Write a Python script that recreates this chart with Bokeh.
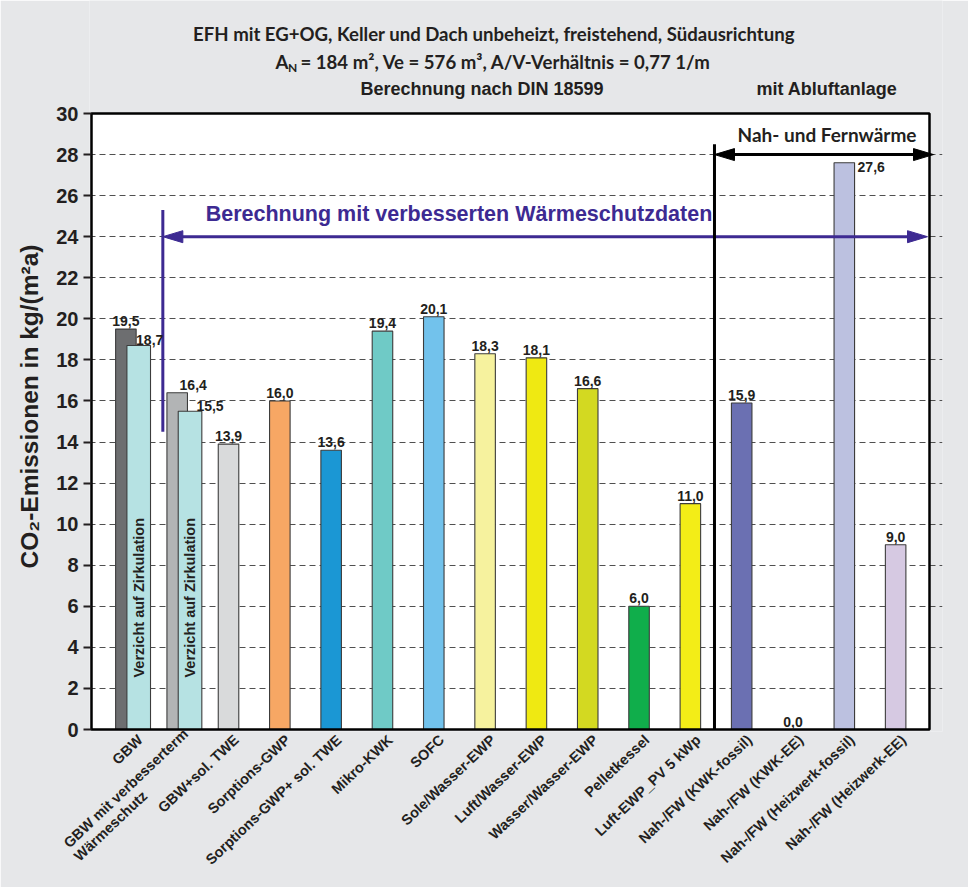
import math

from bokeh.embed import file_html
from bokeh.models import FixedTicker, Label, LinearAxis, Range1d, Title
from bokeh.plotting import figure
from bokeh.resources import INLINE

# ---- data -------------------------------------------------------------
categories = [
    "GBW",
    "GBW mit verbesserterm\nWärmeschutz",
    "GBW+sol. TWE",
    "Sorptions-GWP",
    "Sorptions-GWP+ sol. TWE",
    "Mikro-KWK",
    "SOFC",
    "Sole/Wasser-EWP",
    "Luft/Wasser-EWP",
    "Wasser/Wasser-EWP",
    "Pelletkessel",
    "Luft-EWP_PV 5 kWp",
    "Nah-/FW (KWK-fossil)",
    "Nah-/FW (KWK-EE)",
    "Nah-/FW (Heizwerk-fossil)",
    "Nah-/FW (Heizwerk-EE)",
]
emissions = [19.5, 16.4, 13.9, 16.0, 13.6, 19.4, 20.1, 18.3, 18.1, 16.6,
             6.0, 11.0, 15.9, 0.0, 27.6, 9.0]

# variants "Verzicht auf Zirkulation" for the first two systems
zirk_index = [0, 1]
zirk_emissions = [18.7, 15.5]

y_ticks = [0, 2, 4, 6, 8, 10, 12, 14, 16, 18, 20, 22, 24, 26, 28, 30]

# ---- styles -----------------------------------------------------------
bar_colors = ["#6d6e70", "#b2b4b5", "#d9dadb", "#f7a764", "#1b97d4",
              "#6fcac6", "#72c2ec", "#f6f29e", "#efe912", "#d3d921",
              "#10ae4b", "#f3ed17", "#6b70b2", "#6b70b2", "#bcc1e0",
              "#d6c9e2"]
zirk_color = "#b6e2e3"
TEXT = "#231f20"
PURPLE = "#3d2a92"
BG = "#e6e7e9"

W, H = 968, 887
# white chart box in canvas pixels, and the (slightly larger) drawing frame
BOX_L, BOX_R, BOX_T, BOX_B = 91, 929, 113, 729
FRAME_L, FRAME_R, FRAME_T, FRAME_B = 89, 942, 0, 731
BX0, BX1 = -0.67, 15.66
SX = (BX1 - BX0) / (BOX_R - BOX_L)
SY = 30.0 / (BOX_B - BOX_T)


def xd(px):
    return BX0 + (px - BOX_L) * SX


def yd(py):
    return (BOX_B - py) * SY


def dx(px):
    return px * SX


def dy(py):
    return py * SY


def fmt(v):
    return f"{v:.1f}".replace(".", ",")


p = figure(width=W, height=H,
           x_range=Range1d(xd(FRAME_L), xd(FRAME_R)),
           y_range=Range1d(yd(FRAME_B), yd(FRAME_T)),
           output_backend="svg", toolbar_location=None,
           min_border_left=FRAME_L, min_border_right=W - FRAME_R,
           min_border_top=FRAME_T, min_border_bottom=H - FRAME_B)
p.title.visible = False
p.border_fill_color = BG
p.background_fill_color = BG
p.outline_line_color = None

# white chart box
p.quad(left=[BX0], right=[BX1], bottom=[0], top=[30], fill_color="white",
       line_color=None, level="underlay")

p.xgrid.visible = False
p.ygrid.ticker = FixedTicker(ticks=y_ticks[1:-1])
p.ygrid.grid_line_color = "#505050"
p.ygrid.grid_line_dash = "6 4"
p.ygrid.grid_line_width = 1

ax = p.yaxis[0]
ax.ticker = FixedTicker(ticks=y_ticks)
ax.axis_line_color = None
ax.major_tick_in = 2
ax.major_tick_out = 6
ax.major_tick_line_width = 2
ax.major_tick_line_color = TEXT
ax.minor_tick_line_color = None
ax.major_label_standoff = 5
ax.major_label_text_font = "Liberation Sans"
ax.major_label_text_font_style = "bold"
ax.major_label_text_font_size = "20px"
ax.major_label_text_color = TEXT

# axis title, starting level with the "8" tick and reading upwards
p.add_layout(Title(text="CO₂-Emissionen in kg/(m²a)", align="left", offset=163,
                   text_font="Liberation Sans", text_font_style="bold",
                   text_font_size="24.5px", text_color=TEXT, standoff=22), "left")

# category axis: one tick per system (pairs are labelled at their middle),
# shifted slightly right so the rotated label ends sit next to the bars
LAB_SHIFT = dx(8)
ZIRK_SHIFT = 0.25
label_pos = [i + (ZIRK_SHIFT / 2 if i in zirk_index else 0)
             for i in range(len(categories))]
label_text = []
for name in categories:
    lines = name.split("\n")
    if len(lines) > 1:
        # pad the shorter line so both lines start at the same point
        pad = round((len(lines[0]) - len(lines[1])) * 1.75)
        lines[1] = lines[1] + "\u00a0" * pad
    label_text.append("\n".join(lines))
p.extra_x_ranges = {"cat": Range1d(xd(FRAME_L) - LAB_SHIFT, xd(FRAME_R) - LAB_SHIFT)}
p.xaxis.visible = False
cax = LinearAxis(x_range_name="cat")
cax.ticker = FixedTicker(ticks=label_pos)
cax.major_label_overrides = dict(zip(label_pos, label_text))
cax.major_label_orientation = math.radians(43.5)
cax.axis_line_color = None
cax.major_tick_line_color = None
cax.minor_tick_line_color = None
cax.major_label_standoff = 0
cax.major_label_text_font = "Liberation Sans"
cax.major_label_text_font_style = "bold"
cax.major_label_text_font_size = "14.5px"
cax.major_label_text_color = TEXT
cax.major_label_text_line_height = 1.05
p.add_layout(cax, "below")

# ---- bars -------------------------------------------------------------
idx = list(range(len(categories)))
p.vbar(x=idx, top=emissions, width=0.40, bottom=0, fill_color=bar_colors,
       line_color="#3c3c3c", line_width=1.1)
zx = [i + ZIRK_SHIFT for i in zirk_index]
p.vbar(x=zx, top=zirk_emissions, width=0.46, bottom=0, fill_color=zirk_color,
       line_color="#3c3c3c", line_width=1.1)

# chart box border
p.quad(left=[BX0], right=[BX1], bottom=[0], top=[30], fill_color=None,
       line_color="black", line_width=2.5)


def add_text(x, y, text, size, font="Liberation Sans", color=TEXT, align="center",
             baseline="middle", angle=0.0, style="bold"):
    p.add_layout(Label(x=x, y=y, text=text, text_font=font, text_font_size=size,
                       text_font_style=style, text_color=color, text_align=align,
                       text_baseline=baseline, angle=angle))


# value labels
main_dx_px = {1: 16}
for i, v in enumerate(emissions):
    if i == 14:
        add_text(i + 0.20 + dx(3), v - dy(4), fmt(v), "14px", align="left")
        continue
    add_text(i + dx(main_dx_px.get(i, 0)), v + dy(3), fmt(v), "14px",
             baseline="bottom")
zirk_dx_px = [11, 20]
zirk_dy_px = [1, 0]
for k, v in enumerate(zirk_emissions):
    add_text(zx[k] + dx(zirk_dx_px[k]), v + dy(zirk_dy_px[k]), fmt(v), "14px",
             baseline="bottom")
    add_text(zx[k], yd(677), "Verzicht auf Zirkulation", "14.5px", align="left",
             angle=math.pi / 2)

# ---- range arrows -------------------------------------------------------
HEAD_L, HEAD_HW = 20, 6


def arrow_head(tip_x, tip_y, direction):
    bx = tip_x - direction * dx(HEAD_L)
    return [tip_x, bx, bx], [tip_y, tip_y + dy(HEAD_HW), tip_y - dy(HEAD_HW)]


# improved insulation range
PX_START, PY = 0.72, 24
px_end = xd(927)
p.segment(x0=[PX_START], y0=[14.5], x1=[PX_START], y1=[25.3], line_color=PURPLE,
          line_width=3)
p.segment(x0=[PX_START + dx(10)], y0=[PY], x1=[px_end - dx(10)], y1=[PY],
          line_color=PURPLE, line_width=3)
hl = arrow_head(PX_START, PY, -1)
hr = arrow_head(px_end, PY, 1)
p.patches(xs=[hl[0], hr[0]], ys=[hl[1], hr[1]], fill_color=PURPLE,
          line_color=PURPLE, line_width=1)
add_text(xd(458.5), yd(213), "Berechnung mit verbesserten Wärmeschutzdaten",
         "21.5px", color=PURPLE)

# district heating range
BXL, BYL = 11.47, 28
bx_end = xd(933)
p.segment(x0=[BXL], y0=[0], x1=[BXL], y1=[28.5], line_color="black", line_width=3)
p.segment(x0=[BXL + dx(10)], y0=[BYL], x1=[bx_end - dx(10)], y1=[BYL],
          line_color="black", line_width=3)
bl = arrow_head(BXL, BYL, -1)
br = arrow_head(bx_end, BYL, 1)
p.patches(xs=[bl[0], br[0]], ys=[bl[1], br[1]], fill_color="black",
          line_color="black", line_width=1)
add_text(xd(826.5), yd(134), "Nah- und Fernwärme", "19px", font="Lato")

# ---- headings -----------------------------------------------------------
add_text(xd(493.5), yd(33),
         "EFH mit EG+OG, Keller und Dach unbeheizt, freistehend, Südausrichtung",
         "18.6px", font="Lato")
add_text(xd(275), yd(61), "A", "18.6px", font="Lato", align="left")
add_text(xd(287.5), yd(67), "N", "12px", font="Lato", align="left")
add_text(xd(300), yd(61), "= 184 m², Ve = 576 m³, A/V-Verhältnis = 0,77 1/m",
         "18.6px", font="Lato", align="left")
add_text(xd(481.5), yd(88), "Berechnung nach DIN 18599", "18px")
add_text(xd(826.5), yd(88), "mit Abluftanlage", "18px")

open("out.html", "w").write(file_html(p, INLINE))
